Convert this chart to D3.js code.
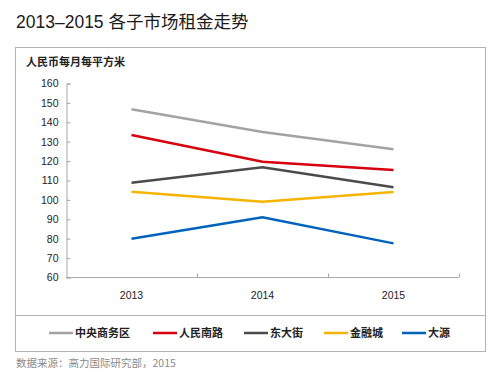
<!DOCTYPE html>
<html>
<head>
<meta charset="utf-8">
<script src="https://cdn.jsdelivr.net/npm/d3@7"></script>
<style>
  body { margin: 0; background: #fff; }
  text { font-family: "Liberation Sans", "Noto Sans CJK SC", sans-serif; }
</style>
</head>
<body>
<svg id="sketch"></svg>
<script>
// data
var years = ['2013', '2014', '2015'];
var names = ['中央商务区', '人民南路', '东大街', '金融城', '大源'];
var colors = ['#a3a3a3', '#d7000f', '#4b4b4b', '#f5b400', '#0062bb'];
var cbd = [146.7, 135.0, 126.1];
var renmin = [133.5, 119.7, 115.4];
var dongdajie = [108.9, 116.8, 106.5];
var jinrongcheng = [104.2, 99.1, 104.1];
var dayuan = [80.0, 91.0, 77.6];
var yTicks = [60, 70, 80, 90, 100, 110, 120, 130, 140, 150, 160];

var series = [cbd, renmin, dongdajie, jinrongcheng, dayuan];
var cjk = '"Noto Sans CJK SC", sans-serif';

var svg = d3.select('#sketch').attr('width', 500).attr('height', 373);

// title
svg.append('text')
    .attr('x', 16)
    .attr('y', 28)
    .text('2013–2015 各子市场租金走势')
    .style('font-size', '17.5px')
    .style('font-family', '"Liberation Sans", ' + cjk)
    .style('fill', '#1a1a1a');

// frame
svg.append('rect')
    .attr('x', 15.5).attr('y', 47.5)
    .attr('width', 470).attr('height', 304)
    .style('fill', 'none').style('stroke', '#b3b3b3').style('stroke-width', 1);
svg.append('line')
    .attr('x1', 15.5).attr('x2', 485.5).attr('y1', 315.5).attr('y2', 315.5)
    .style('stroke', '#b3b3b3');

// unit label
svg.append('text')
    .attr('x', 26)
    .attr('y', 66)
    .text('人民币每月每平方米')
    .style('font-size', '11px')
    .style('font-weight', 'bold')
    .style('font-family', cjk)
    .style('fill', '#222');

var x = d3.scaleBand().domain(years).range([66, 459]);
var y = d3.scaleLinear().domain([60, 160]).range([277.5, 83.5]);

// y axis
var yAxis = svg.append('g')
    .attr('transform', 'translate(66.5,0)')
    .call(d3.axisRight(y).tickValues(yTicks).tickSize(4).tickFormat(d3.format('d')));
yAxis.select('.domain').style('stroke', '#a8a8a8');
yAxis.selectAll('.tick line').style('stroke', '#a8a8a8');
yAxis.selectAll('.tick text')
    .attr('x', -8)
    .style('text-anchor', 'end')
    .style('font-size', '10.5px')
    .style('font-family', '"Liberation Sans", sans-serif')
    .style('fill', '#222');

// x axis, ticks at band edges pointing up
var xg = svg.append('g').attr('transform', 'translate(0,277.5)');
xg.append('line')
    .attr('x1', x.range()[0]).attr('x2', x.range()[1])
    .style('stroke', '#a8a8a8');
var edges = years.map(function(d) { return x(d); }).concat([x.range()[1]]).slice(1);
xg.selectAll('.edge').data(edges).enter().append('line')
    .attr('x1', function(d) { return d + 0.5; })
    .attr('x2', function(d) { return d + 0.5; })
    .attr('y1', 0).attr('y2', -4)
    .style('stroke', '#a8a8a8');
xg.selectAll('.lbl').data(years).enter().append('text')
    .attr('x', function(d) { return x(d) + x.bandwidth() / 2; })
    .attr('y', 21)
    .attr('text-anchor', 'middle')
    .text(function(d) { return d; })
    .style('font-size', '10.5px')
    .style('fill', '#222');

// lines
var line = d3.line()
    .x(function(d, i) { return x(years[i]) + x.bandwidth() / 2; })
    .y(function(d) { return y(d); });

svg.append('g').selectAll('path').data(series).enter().append('path')
    .attr('d', line)
    .style('fill', 'none')
    .style('stroke', function(d, i) { return colors[i]; })
    .style('stroke-width', 2.5);

// legend
var legX = [49, 153, 244, 324, 402];
var leg = svg.append('g').selectAll('g').data(names).enter().append('g')
    .attr('transform', function(d, i) { return 'translate(' + legX[i] + ',333)'; });
leg.append('line')
    .attr('x1', 0).attr('x2', 24)
    .style('stroke', function(d, i) { return colors[i]; })
    .style('stroke-width', 2.5);
leg.append('text')
    .attr('x', 26)
    .attr('y', 4)
    .text(function(d) { return d; })
    .style('font-size', '11px')
    .style('font-weight', 'bold')
    .style('font-family', cjk)
    .style('fill', '#222');

// source
svg.append('text')
    .attr('x', 16)
    .attr('y', 367)
    .text('数据来源：高力国际研究部，2015')
    .style('font-size', '10.5px')
    .style('font-family', cjk)
    .style('fill', '#8a8a8a');
</script>
</body>
</html>
